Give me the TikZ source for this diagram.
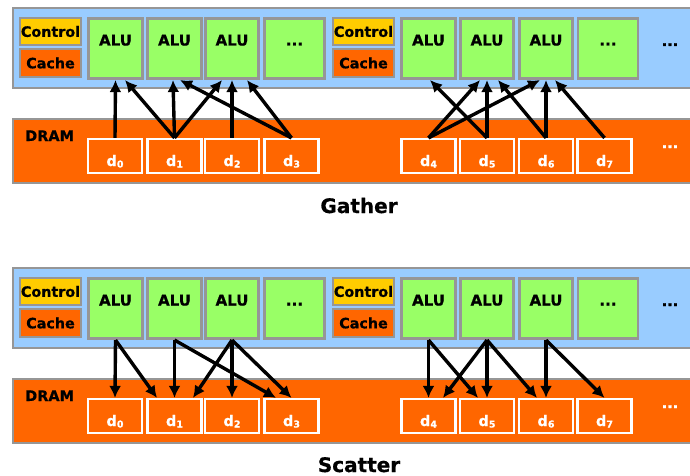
\documentclass[tikz,border=0pt]{standalone}
\usepackage{fontspec}
\setmainfont{DejaVu Sans}[BoldFeatures={FakeBold=0.7}]
\usetikzlibrary{arrows.meta}

\definecolor{chipblue}{HTML}{99CCFF}
\definecolor{edgegray}{RGB}{150,150,150}
\definecolor{ctrlyellow}{HTML}{FFCC00}
\definecolor{memorange}{HTML}{FF6600}
\definecolor{alugreen}{HTML}{99FF66}

% small lowered index for the memory cells
\newcommand\cellidx[1]{\raisebox{-1.5pt}{\fontsize{9.5}{9.5}\selectfont #1}}

\tikzset{
  chip/.style={draw=edgegray, line width=2pt, fill=chipblue},
  dram/.style={draw=edgegray, line width=2pt, fill=memorange},
  small/.style={draw=edgegray, line width=2.2pt, minimum width=61pt,
    inner sep=0pt, font=\bfseries\fontsize{14.3}{14.3}\selectfont},
  ctrl/.style={small, fill=ctrlyellow, minimum height=27pt},
  cache/.style={small, fill=memorange, minimum height=28pt},
  unit/.style={draw=edgegray, line width=2.6pt, fill=alugreen,
    minimum width=53.5pt, minimum height=60.5pt, inner sep=0pt,
    font=\bfseries\fontsize{15}{15}\selectfont,
    text height=11pt, text depth=17pt},
  wideunit/.style={unit, minimum width=60pt},
  cell/.style={draw=white, line width=2.2pt, fill=memorange, text=white,
    minimum width=54pt, minimum height=34pt, inner sep=0pt,
    font=\bfseries\fontsize{14.5}{14.5}\selectfont,
    text height=20pt, text depth=0pt},
  lbl/.style={inner sep=0pt, font=\bfseries\fontsize{14.5}{14.5}\selectfont},
  title/.style={inner sep=0pt, font=\bfseries\fontsize{20}{20}\selectfont},
  flow/.style={line width=3.4pt, -{Latex[length=12pt,width=12pt]}}
}

\begin{document}
\begin{tikzpicture}[x=1pt,y=-1pt]
\useasboundingbox (0,0) rectangle (690,476);
\clip (0,0) rectangle (690,476);

\foreach \p/\oy in {g/0,s/260}{
\begin{scope}[yshift=-\oy pt]
  % processor strip
  \draw[chip] (13,8) rectangle (700,88);
  \node[ctrl]  (\p-ctl1) at (50.5,31.5) {Control};
  \node[cache] (\p-cch1) at (50.5,63) {Cache};
  \node[unit]  (\p-a1) at (115.5,48.5) {ALU};
  \node[unit]  (\p-a2) at (174.5,48.5) {ALU};
  \node[unit]  (\p-a3) at (232,48.5) {ALU};
  \node[wideunit] (\p-ax) at (294.5,48.5) {...};
  \node[ctrl]  (\p-ctl2) at (363.5,31.5) {Control};
  \node[cache] (\p-cch2) at (363.5,63) {Cache};
  \node[unit]  (\p-a4) at (428.5,48.5) {ALU};
  \node[unit]  (\p-a5) at (487,48.5) {ALU};
  \node[unit]  (\p-a6) at (546,48.5) {ALU};
  \node[wideunit] (\p-ay) at (608,48.5) {...};
  \node[lbl, anchor=base] (\p-more) at (670,46) {...};
  % memory strip
  \draw[dram] (13,119) rectangle (700,183);
  \node[lbl, anchor=base west] (\p-dram) at (25,141) {DRAM};
  \node[cell] (\p-d0) at (115,156) {d\cellidx{0}};
  \node[cell] (\p-d1) at (174.5,156) {d\cellidx{1}};
  \node[cell] (\p-d2) at (232,156) {d\cellidx{2}};
  \node[cell] (\p-d3) at (291.5,156) {d\cellidx{3}};
  \node[cell] (\p-d4) at (428.5,156) {d\cellidx{4}};
  \node[cell] (\p-d5) at (487,156) {d\cellidx{5}};
  \node[cell] (\p-d6) at (546,156) {d\cellidx{6}};
  \node[cell] (\p-d7) at (604.5,156) {d\cellidx{7}};
  \node[lbl, anchor=base, text=white] (\p-dmore) at (670,148) {...};
\end{scope}
}

\node[title, anchor=base] (gather)  at (359,213) {Gather};
\node[title, anchor=base] (scatter) at (359,472) {Scatter};

% gather: memory cells feed the ALUs
\draw[flow] (g-d0.north) -- (g-a1.south);
\draw[flow] (g-d1.north) -- ([xshift=9.5pt]g-a1.south);
\draw[flow] (g-d1.north) -- ([xshift=-1.5pt]g-a2.south);
\draw[flow] (g-d1.north) -- ([xshift=-10pt]g-a3.south);
\draw[flow] (g-d2.north) -- (g-a3.south);
\draw[flow] (g-d3.north) -- ([xshift=5.5pt]g-a2.south);
\draw[flow] (g-d3.north) -- ([xshift=15pt]g-a3.south);
\draw[flow] (g-d4.north) -- ([xshift=-7pt]g-a5.south);
\draw[flow] (g-d4.north) -- ([xshift=-6pt]g-a6.south);
\draw[flow] (g-d5.north) -- ([xshift=1.5pt]g-a4.south);
\draw[flow] (g-d5.north) -- (g-a5.south);
\draw[flow] (g-d6.north) -- ([xshift=11pt]g-a5.south);
\draw[flow] (g-d6.north) -- (g-a6.south);
\draw[flow] (g-d7.north) -- ([xshift=9pt]g-a6.south);

% scatter: ALUs write into memory cells
\draw[flow] (s-a1.south) -- (s-d0.north);
\draw[flow] (s-a1.south) -- ([xshift=-17.5pt]s-d1.north);
\draw[flow] (s-a2.south) -- (s-d1.north);
\draw[flow] (s-a2.south) -- ([xshift=-15.5pt]s-d3.north);
\draw[flow] (s-a3.south) -- ([xshift=18.5pt]s-d1.north);
\draw[flow] (s-a3.south) -- (s-d2.north);
\draw[flow] (s-a3.south) -- (s-d3.north);
\draw[flow] (s-a4.south) -- (s-d4.north);
\draw[flow] (s-a4.south) -- ([xshift=-9pt]s-d5.north);
\draw[flow] (s-a5.south) -- ([xshift=14.5pt]s-d4.north);
\draw[flow] (s-a5.south) -- (s-d5.north);
\draw[flow] (s-a5.south) -- ([xshift=-9pt]s-d6.north);
\draw[flow] (s-a6.south) -- (s-d6.north);
\draw[flow] (s-a6.south) -- (s-d7.north);
\end{tikzpicture}
\end{document}
